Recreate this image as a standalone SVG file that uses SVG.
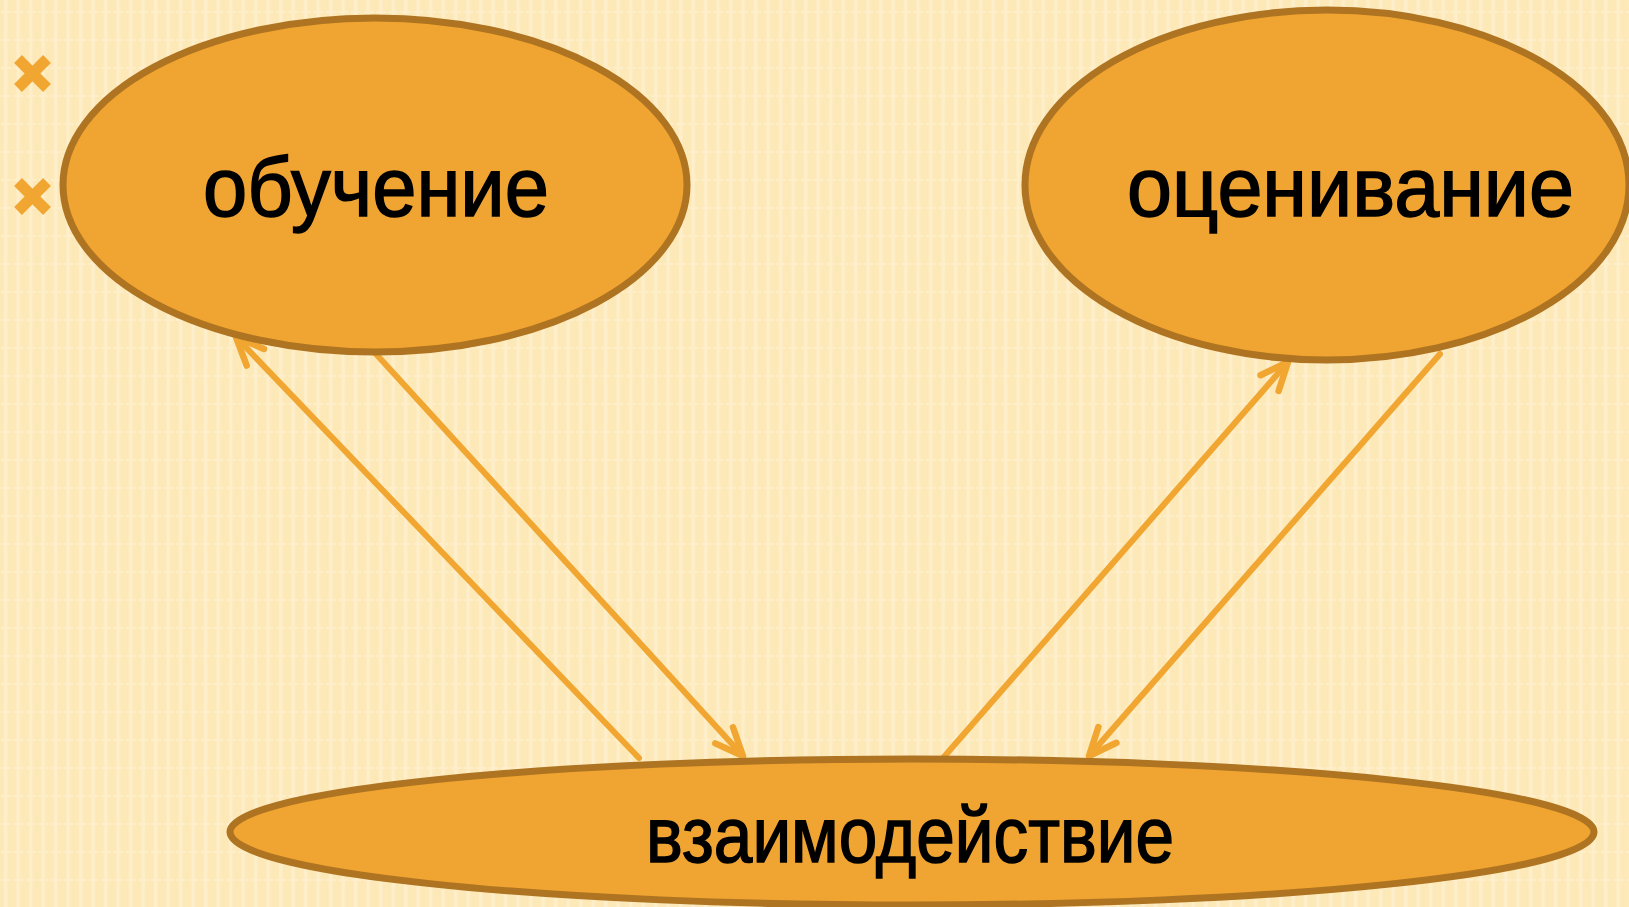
<svg xmlns="http://www.w3.org/2000/svg" width="1629" height="907" viewBox="0 0 1629 907">
<defs>
<pattern id="bg" x="0" y="0" width="12.5" height="28" patternUnits="userSpaceOnUse">
<rect width="12.5" height="28" fill="#fde8b7"/>
<rect x="4" y="0" width="3.5" height="28" fill="#feefca"/>
<rect x="1" y="11" width="10" height="2" fill="#feefca"/>
</pattern>
<marker id="ah" markerUnits="userSpaceOnUse" markerWidth="40" markerHeight="40" refX="32" refY="16" orient="auto" overflow="visible">
<path d="M4,4 L32,16 L4,28" fill="none" stroke="#f0a630" stroke-width="6.5" stroke-linecap="round" stroke-linejoin="round"/>
</marker>
<style>
.node{fill:#f0a431;stroke:#ae7421;stroke-width:7}
.lbl{font-family:"Liberation Sans",Arial,sans-serif;fill:#000;stroke:#000;stroke-width:1.5}
.conn{stroke:#f0a630;stroke-width:6;fill:none;stroke-linecap:round;marker-end:url(#ah)}
.cross{stroke:#f0a630;stroke-width:11;stroke-linecap:butt}
</style>
</defs>
<rect width="1629" height="907" fill="url(#bg)"/>
<g id="bullets">
<line class="cross" x1="18" y1="59" x2="47" y2="88"/>
<line class="cross" x1="47" y1="59" x2="18" y2="88"/>
<line class="cross" x1="18" y1="182" x2="47" y2="211"/>
<line class="cross" x1="47" y1="182" x2="18" y2="211"/>
</g>
<g id="connectors">
<line class="conn" x1="639" y1="758" x2="236" y2="337"/>
<line class="conn" x1="376" y1="354" x2="743" y2="756"/>
<line class="conn" x1="943" y1="758" x2="1288" y2="362"/>
<line class="conn" x1="1440" y1="354" x2="1089" y2="756"/>
</g>
<g id="node-obuchenie">
<ellipse class="node" cx="375" cy="185" rx="312" ry="167"/>
<text class="lbl" x="203" y="216" font-size="83" textLength="346" lengthAdjust="spacingAndGlyphs">обучение</text>
</g>
<g id="node-otsenivanie">
<ellipse class="node" cx="1327" cy="185" rx="302" ry="175"/>
<text class="lbl" x="1127" y="216" font-size="83" textLength="447" lengthAdjust="spacingAndGlyphs">оценивание</text>
</g>
<g id="node-vzaimodeistvie">
<ellipse class="node" cx="912" cy="832" rx="682" ry="73"/>
<text class="lbl" x="646" y="862" font-size="78" textLength="528" lengthAdjust="spacingAndGlyphs">взаимодействие</text>
</g>
</svg>
